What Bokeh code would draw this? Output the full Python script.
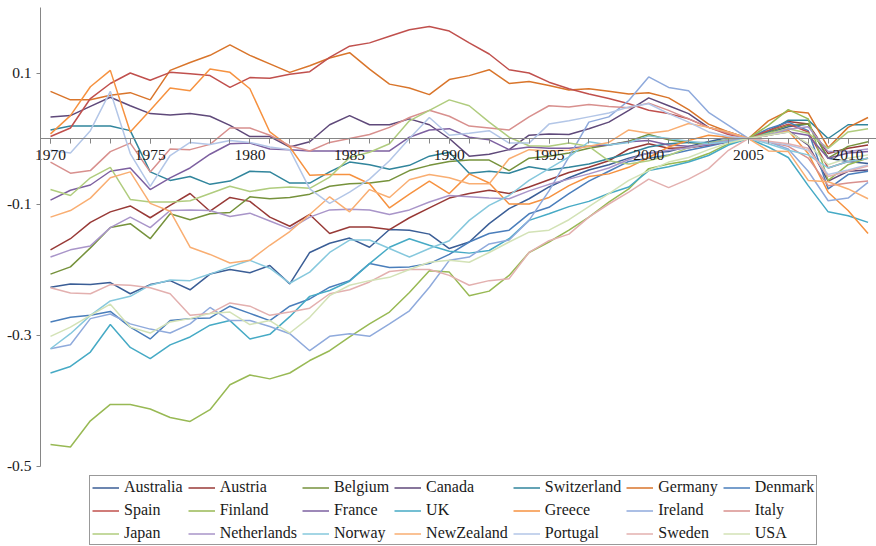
from bokeh.plotting import figure
from bokeh.models import Legend, LegendItem, FixedTicker, Range1d
from bokeh.embed import file_html
from bokeh.resources import INLINE

# Index values per country, 2005 = 0, yearly 1970-2011
years = list(range(1970, 2012))

australia = [-0.227, -0.222, -0.223, -0.220, -0.237, -0.223, -0.217, -0.231, -0.207, -0.200,
             -0.205, -0.194, -0.222, -0.174, -0.160, -0.152, -0.166, -0.139, -0.140, -0.146,
             -0.168, -0.158, -0.130, -0.107, -0.092, -0.074, -0.060, -0.048, -0.040, -0.030,
             -0.022, -0.020, -0.012, -0.005, 0.002, 0.0, 0.008, 0.018, 0.022, -0.030,
             -0.035, -0.038]
austria = [-0.170, -0.153, -0.128, -0.112, -0.103, -0.121, -0.102, -0.084, -0.111, -0.090,
           -0.096, -0.120, -0.134, -0.116, -0.145, -0.135, -0.135, -0.139, -0.121, -0.106,
           -0.091, -0.084, -0.079, -0.084, -0.074, -0.063, -0.052, -0.044, -0.034, -0.016,
           -0.008, -0.015, -0.014, -0.010, -0.005, 0.0, 0.012, 0.026, 0.022, -0.023,
           -0.015, -0.010]
belgium = [-0.207, -0.196, -0.167, -0.136, -0.130, -0.153, -0.115, -0.124, -0.115, -0.113,
           -0.089, -0.092, -0.090, -0.085, -0.073, -0.069, -0.068, -0.064, -0.049, -0.041,
           -0.035, -0.033, -0.033, -0.049, -0.030, -0.027, -0.022, -0.015, -0.010, -0.004,
           0.006, -0.002, -0.006, -0.008, -0.004, 0.0, 0.010, 0.020, 0.022, -0.030,
           -0.012, -0.005]
canada = [0.033, 0.035, 0.049, 0.063, 0.050, 0.038, 0.036, 0.038, 0.034, 0.020,
          0.003, 0.003, -0.013, -0.005, 0.021, 0.035, 0.021, 0.021, 0.030, 0.021,
          0.000, -0.027, -0.024, -0.017, 0.005, 0.007, 0.006, 0.015, 0.025, 0.043,
          0.062, 0.050, 0.038, 0.017, 0.010, 0.0, 0.005, 0.012, -0.010, -0.065,
          -0.050, -0.048]
switzerland = [0.013, 0.019, 0.019, 0.019, 0.012, -0.051, -0.064, -0.058, -0.070, -0.065,
               -0.050, -0.051, -0.068, -0.068, -0.051, -0.036, -0.040, -0.047, -0.041, -0.027,
               -0.021, -0.053, -0.050, -0.053, -0.043, -0.048, -0.044, -0.039, -0.031, -0.023,
               -0.013, -0.008, -0.006, -0.006, -0.002, 0.0, 0.010, 0.028, 0.028, 0.000,
               0.021, 0.021]
germany = [0.072, 0.059, 0.059, 0.066, 0.070, 0.059, 0.104, 0.116, 0.127, 0.143,
           0.127, 0.114, 0.101, 0.111, 0.123, 0.131, 0.106, 0.083, 0.077, 0.067,
           0.090, 0.096, 0.105, 0.084, 0.087, 0.081, 0.074, 0.076, 0.072, 0.068,
           0.070, 0.062, 0.044, 0.022, 0.010, 0.0, 0.027, 0.042, 0.039, -0.014,
           0.017, 0.032]
denmark = [-0.280, -0.273, -0.270, -0.264, -0.288, -0.306, -0.278, -0.275, -0.274, -0.256,
           -0.267, -0.278, -0.256, -0.245, -0.227, -0.217, -0.191, -0.197, -0.196, -0.191,
           -0.177, -0.158, -0.145, -0.140, -0.115, -0.105, -0.084, -0.065, -0.050, -0.035,
           -0.030, -0.025, -0.018, -0.012, -0.005, 0.0, 0.015, 0.025, 0.012, -0.077,
           -0.055, -0.050]
spain = [0.003, 0.016, 0.061, 0.084, 0.100, 0.089, 0.101, 0.099, 0.096, 0.078,
         0.093, 0.092, 0.098, 0.102, 0.124, 0.141, 0.146, 0.156, 0.166, 0.171,
         0.164, 0.146, 0.129, 0.105, 0.100, 0.086, 0.076, 0.068, 0.061, 0.053,
         0.043, 0.038, 0.030, 0.017, 0.006, 0.0, 0.012, 0.022, 0.010, -0.045,
         -0.035, -0.030]
finland = [-0.467, -0.471, -0.431, -0.406, -0.406, -0.413, -0.426, -0.432, -0.414, -0.376,
           -0.361, -0.367, -0.358, -0.339, -0.324, -0.303, -0.283, -0.265, -0.235, -0.202,
           -0.204, -0.240, -0.233, -0.209, -0.174, -0.158, -0.140, -0.120, -0.097, -0.077,
           -0.046, -0.039, -0.034, -0.023, -0.008, 0.0, 0.020, 0.044, 0.030, -0.064,
           -0.040, -0.030]
france = [-0.094, -0.079, -0.071, -0.050, -0.045, -0.078, -0.060, -0.045, -0.024, -0.008,
          -0.007, -0.016, -0.017, -0.019, -0.019, -0.019, -0.019, -0.019, 0.002, 0.013,
          0.015, 0.002, -0.002, -0.017, -0.013, -0.015, -0.015, -0.012, -0.010, -0.005,
          -0.003, -0.010, -0.012, -0.010, -0.005, 0.0, 0.005, 0.010, 0.005, -0.030,
          -0.022, -0.020]
uk = [-0.358, -0.348, -0.326, -0.284, -0.319, -0.336, -0.315, -0.303, -0.285, -0.278,
      -0.306, -0.299, -0.272, -0.241, -0.232, -0.218, -0.191, -0.166, -0.153, -0.163,
      -0.172, -0.175, -0.171, -0.153, -0.125, -0.115, -0.104, -0.096, -0.084, -0.074,
      -0.049, -0.043, -0.036, -0.026, -0.010, 0.0, -0.013, -0.029, -0.072, -0.112,
      -0.118, -0.128]
greece = [0.007, 0.035, 0.079, 0.104, 0.010, 0.043, 0.077, 0.073, 0.106, 0.101,
          0.076, 0.010, -0.013, -0.056, -0.055, -0.055, -0.069, -0.106, -0.085, -0.065,
          -0.084, -0.054, -0.068, -0.100, -0.100, -0.090, -0.072, -0.058, -0.054, -0.044,
          -0.029, -0.013, -0.003, 0.005, 0.002, 0.0, 0.005, 0.012, -0.023, -0.082,
          -0.110, -0.145]
ireland = [-0.321, -0.315, -0.275, -0.268, -0.283, -0.291, -0.297, -0.283, -0.258, -0.278,
           -0.278, -0.287, -0.298, -0.324, -0.302, -0.298, -0.302, -0.283, -0.263, -0.227,
           -0.186, -0.181, -0.161, -0.155, -0.125, -0.080, -0.028, 0.025, 0.033, 0.058,
           0.094, 0.078, 0.073, 0.040, 0.020, 0.0, -0.005, -0.016, -0.050, -0.095,
           -0.091, -0.067]
italy = [-0.036, -0.053, -0.049, -0.020, -0.007, -0.051, -0.016, -0.017, -0.009, 0.016,
         0.016, 0.005, -0.011, -0.019, -0.006, 0.000, 0.006, 0.017, 0.032, 0.043,
         0.034, 0.019, 0.016, 0.013, 0.033, 0.050, 0.048, 0.052, 0.049, 0.047,
         0.054, 0.043, 0.030, 0.017, 0.008, 0.0, -0.005, -0.012, -0.030, -0.072,
         -0.068, -0.065]
japan = [-0.078, -0.087, -0.060, -0.044, -0.093, -0.097, -0.097, -0.095, -0.084, -0.073,
         -0.081, -0.076, -0.074, -0.076, -0.059, -0.029, -0.021, -0.008, 0.027, 0.043,
         0.059, 0.050, 0.025, 0.002, -0.011, -0.012, -0.007, -0.012, -0.034, -0.039,
         -0.034, -0.026, -0.014, -0.007, -0.002, 0.0, 0.008, 0.015, 0.008, -0.015,
         0.010, 0.015]
netherlands = [-0.181, -0.170, -0.164, -0.136, -0.120, -0.136, -0.110, -0.109, -0.110, -0.119,
               -0.114, -0.126, -0.138, -0.120, -0.109, -0.108, -0.109, -0.116, -0.109, -0.097,
               -0.087, -0.089, -0.091, -0.092, -0.080, -0.070, -0.062, -0.054, -0.045, -0.032,
               -0.022, -0.018, -0.014, -0.008, -0.003, 0.0, 0.005, 0.014, 0.018, -0.020,
               -0.020, -0.016]
norway = [-0.321, -0.298, -0.270, -0.248, -0.241, -0.224, -0.216, -0.217, -0.207, -0.196,
          -0.186, -0.198, -0.221, -0.204, -0.174, -0.155, -0.155, -0.168, -0.181, -0.168,
          -0.156, -0.125, -0.102, -0.087, -0.064, -0.046, -0.028, -0.005, -0.010, -0.006,
          0.004, 0.000, -0.004, -0.008, -0.005, 0.0, -0.008, -0.018, -0.025, -0.045,
          -0.035, -0.030]
newzealand = [-0.120, -0.110, -0.091, -0.060, -0.051, -0.099, -0.111, -0.166, -0.177, -0.190,
              -0.186, -0.163, -0.142, -0.116, -0.089, -0.112, -0.078, -0.090, -0.063, -0.055,
              -0.060, -0.069, -0.069, -0.031, -0.017, -0.019, -0.018, -0.012, -0.006, 0.013,
              0.008, 0.012, 0.023, 0.017, 0.010, 0.0, -0.019, -0.020, -0.064, -0.066,
              -0.077, -0.092]
portugal = [-0.018, -0.022, 0.012, 0.072, -0.023, -0.073, -0.026, -0.006, -0.009, -0.003,
            -0.006, -0.013, -0.017, -0.077, -0.099, -0.082, -0.062, -0.034, 0.000, 0.032,
            0.005, 0.008, 0.012, -0.007, -0.007, 0.022, 0.027, 0.033, 0.039, 0.048,
            0.053, 0.038, 0.025, 0.010, 0.003, 0.0, -0.005, -0.010, -0.018, -0.055,
            -0.048, -0.040]
sweden = [-0.228, -0.236, -0.237, -0.223, -0.224, -0.228, -0.237, -0.270, -0.267, -0.251,
          -0.256, -0.270, -0.265, -0.259, -0.237, -0.231, -0.219, -0.203, -0.200, -0.200,
          -0.209, -0.224, -0.217, -0.214, -0.174, -0.156, -0.146, -0.120, -0.100, -0.082,
          -0.062, -0.075, -0.062, -0.046, -0.018, 0.0, -0.004, -0.008, -0.015, -0.058,
          -0.050, -0.042]
usa = [-0.302, -0.288, -0.270, -0.253, -0.288, -0.297, -0.280, -0.275, -0.267, -0.265,
       -0.284, -0.278, -0.297, -0.273, -0.240, -0.224, -0.217, -0.212, -0.200, -0.189,
       -0.186, -0.189, -0.174, -0.158, -0.143, -0.140, -0.124, -0.104, -0.084, -0.064,
       -0.049, -0.036, -0.029, -0.017, -0.007, 0.0, 0.005, 0.010, -0.008, -0.040,
       -0.030, -0.025]

countries = ["Australia", "Austria", "Belgium", "Canada", "Switzerland", "Germany", "Denmark",
             "Spain", "Finland", "France", "UK", "Greece", "Ireland", "Italy",
             "Japan", "Netherlands", "Norway", "NewZealand", "Portugal", "Sweden", "USA"]
values = [australia, austria, belgium, canada, switzerland, germany, denmark,
          spain, finland, france, uk, greece, ireland, italy,
          japan, netherlands, norway, newzealand, portugal, sweden, usa]
colors = ["#3B5E96", "#983A37", "#76923C", "#5F497A", "#31859C", "#D9752B", "#4A7EBB",
          "#C0504D", "#98B954", "#7D60A0", "#46AAC5", "#F69240", "#8FAADC", "#D8908E",
          "#B0CC7E", "#A995C9", "#86C8DD", "#F9AE72", "#B3C6E7", "#E3B0AF", "#D3E2B6"]

x_ticks = list(range(1970, 2011, 5))
y_ticks = [-0.5, -0.3, -0.1, 0.1]
y_labels = {-0.5: "-0.5", -0.3: "-0.3", -0.1: "-0.1", 0.1: "0.1"}

FONT = "Liberation Serif"
AXIS_GRAY = "#868686"
TEXT_COLOR = "#1a1a1a"

# The frame covers the whole canvas; the axes are pinned inside it
PX_PER_YEAR = 19.94
PX_PER_UNIT = 655.0
x0 = 1970 - 50 / PX_PER_YEAR
x1 = x0 + 876 / PX_PER_YEAR
y1 = 138 / PX_PER_UNIT
y0 = -(546 - 138) / PX_PER_UNIT
y_axis_at = 1970 - 10 / PX_PER_YEAR

p = figure(width=876, height=546, output_backend="svg", toolbar_location=None,
           x_range=Range1d(x0, x1), y_range=Range1d(y0, y1),
           min_border_left=0, min_border_right=0, min_border_top=0, min_border_bottom=0)
p.outline_line_color = None
p.xgrid.visible = False
p.ygrid.visible = False

# Horizontal axis on the zero line
p.xaxis.fixed_location = 0
p.xaxis.bounds = (y_axis_at, x1)
p.xaxis.ticker = FixedTicker(ticks=x_ticks, minor_ticks=years)
p.xaxis.axis_line_color = AXIS_GRAY
p.xaxis.major_tick_line_color = AXIS_GRAY
p.xaxis.minor_tick_line_color = AXIS_GRAY
p.xaxis.major_tick_in = 0
p.xaxis.major_tick_out = 5
p.xaxis.minor_tick_in = 0
p.xaxis.minor_tick_out = 5
p.xaxis.major_label_standoff = 6
p.xaxis.major_label_text_font = FONT
p.xaxis.major_label_text_font_size = "15.5px"
p.xaxis.major_label_text_color = TEXT_COLOR

# Vertical axis just left of the first year
p.yaxis.fixed_location = y_axis_at
p.yaxis.bounds = (-0.5, 0.2)
p.yaxis.ticker = FixedTicker(ticks=y_ticks, minor_ticks=[])
p.yaxis.major_label_overrides = y_labels
p.yaxis.axis_line_color = AXIS_GRAY
p.yaxis.major_tick_line_color = AXIS_GRAY
p.yaxis.major_tick_in = 0
p.yaxis.major_tick_out = 4
p.yaxis.major_label_standoff = 5
p.yaxis.major_label_text_font = FONT
p.yaxis.major_label_text_font_size = "15.5px"
p.yaxis.major_label_text_color = TEXT_COLOR

items = []
for name, vals, col in zip(countries, values, colors):
    r = p.line(years, vals, line_color=col, line_width=1.5)
    items.append(LegendItem(label=name, renderers=[r]))

legend = Legend(items=items, location=(89, 1), orientation="horizontal", ncols=7,
                label_text_font=FONT, label_text_font_size="16px", label_text_color=TEXT_COLOR,
                glyph_width=27, glyph_height=17, label_height=17, label_standoff=5,
                spacing=5, padding=2, margin=0,
                border_line_color="#333333", border_line_width=1,
                background_fill_color="white", background_fill_alpha=1.0)
p.add_layout(legend, "center")

open("out.html", "w").write(file_html(p, INLINE))
